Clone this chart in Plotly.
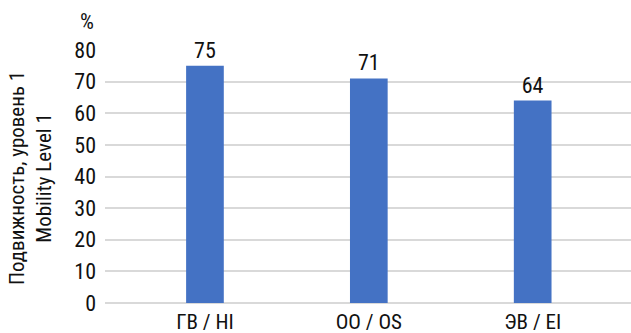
import plotly.graph_objects as go

categories = ["ГВ / HI", "ОО / OS", "ЭВ / EI"]
values = [75, 71, 64]
y_ticks = [0, 10, 20, 30, 40, 50, 60, 70, 80]

FONT = "Roboto Condensed, Liberation Sans Narrow, DejaVu Sans Condensed, Roboto, sans-serif"

L, R, T, B = 105, 0, 50, 30
W, H = 631, 333
pw, ph = W - L - R, H - T - B


def px(x):
    return (x - L) / pw


def py(y):
    return (H - B - y) / ph


fig = go.Figure()
fig.add_trace(go.Bar(
    x=list(range(len(categories))),
    y=values,
    width=0.23,
    marker=dict(color="#4472C4", line=dict(width=0)),
    text=[str(v) for v in values],
    textposition="outside",
    textfont=dict(size=22, color="#111111", family=FONT),
    cliponaxis=False,
))

fig.update_layout(
    width=W, height=H,
    margin=dict(l=L, r=R, t=T, b=B, pad=0),
    paper_bgcolor="white", plot_bgcolor="white",
    font=dict(family=FONT, size=21, color="#111111"),
    showlegend=False,
    xaxis=dict(
        tickmode="array",
        tickvals=list(range(len(categories))),
        ticktext=categories,
        range=[-0.61, 2.6],
        showgrid=False, zeroline=False, showline=False,
        ticks="", ticklabelstandoff=4, tickfont=dict(size=21, family=FONT),
    ),
    yaxis=dict(
        range=[0, 80],
        tickvals=y_ticks,
        showgrid=True, gridcolor="#d9d9d9", gridwidth=1.5,
        zeroline=True, zerolinecolor="#d9d9d9", zerolinewidth=1.5,
        showline=False, ticks="", ticklabelstandoff=8,
        tickfont=dict(size=22, family=FONT),
    ),
    annotations=[
        dict(text="%", x=px(87), y=py(21), xref="paper", yref="paper",
             xanchor="center", yanchor="middle", showarrow=False,
             font=dict(size=22, family=FONT)),
        dict(text="Подвижность, уровень 1<br>Mobility Level 1",
             x=px(30), y=py(178), xref="paper", yref="paper",
             xanchor="center", yanchor="middle",
             textangle=-90, showarrow=False, font=dict(size=21, family=FONT)),
    ],
)

fig.write_html("out.html")
